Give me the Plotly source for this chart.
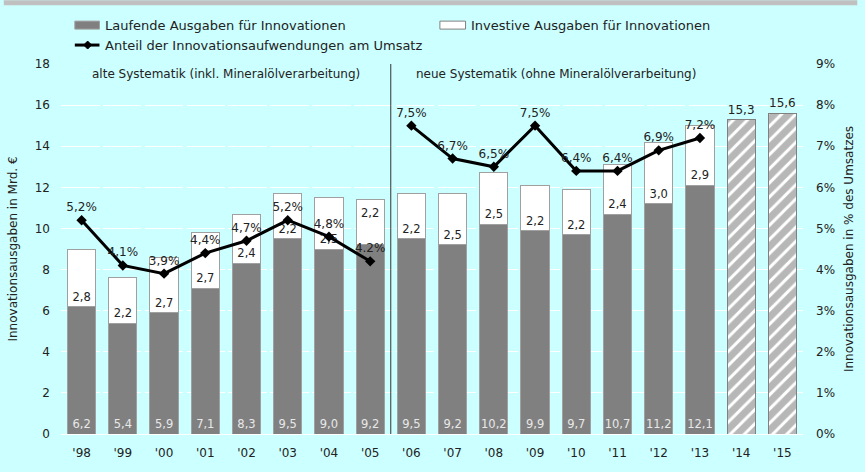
import plotly.graph_objects as go

# ---------------- data ----------------
years = ["'98", "'99", "'00", "'01", "'02", "'03", "'04", "'05", "'06", "'07",
         "'08", "'09", "'10", "'11", "'12", "'13", "'14", "'15"]
laufend = [6.2, 5.4, 5.9, 7.1, 8.3, 9.5, 9.0, 9.2, 9.5, 9.2, 10.2, 9.9, 9.7, 10.7, 11.2, 12.1, None, None]
investiv = [2.8, 2.2, 2.7, 2.7, 2.4, 2.2, 2.5, 2.2, 2.2, 2.5, 2.5, 2.2, 2.2, 2.4, 3.0, 2.9, None, None]
plan_total = [None] * 16 + [15.3, 15.6]
anteil = [5.2, 4.1, 3.9, 4.4, 4.7, 5.2, 4.8, 4.2, 7.5, 6.7, 6.5, 7.5, 6.4, 6.4, 6.9, 7.2]
anteil_labels = ["5,2%", "4,1%", "3,9%", "4,4%", "4,7%", "5,2%", "4,8%", "4.2%",
                 "7,5%", "6,7%", "6,5%", "7,5%", "6,4%", "6,4%", "6,9%", "7,2%"]
y_left_ticks = [0, 2, 4, 6, 8, 10, 12, 14, 16, 18]
y_right_ticks = [0, 1, 2, 3, 4, 5, 6, 7, 8, 9]
y_right_ticktext = ["0%", "1%", "2%", "3%", "4%", "5%", "6%", "7%", "8%", "9%"]
legend_names = ["Laufende Ausgaben für Innovationen",
                "Investive Ausgaben für Innovationen",
                "Anteil der Innovationsaufwendungen am Umsatz"]
era_labels = ["alte Systematik (inkl. Mineralölverarbeitung)",
              "neue Systematik (ohne Mineralölverarbeitung)"]
n_old = 8  # years with old methodology ('98-'05)

def de(v):
    return "" if v is None else f"{v:.1f}".replace(".", ",")

FONT = "DejaVu Sans"
BG = "#ccffff"
GRAY = "#808080"
EDGE = "#a0a0a0"
TXT = "#222222"

W, H = 865, 472
L, R, T, B = 58, 55, 64, 37
PW, PH = W - L - R, H - T - B

def px(x):
    return (x - L) / PW

def py(y):
    return (H - B - y) / PH

fig = go.Figure()

fig.add_trace(go.Bar(
    x=years, y=laufend, name=legend_names[0],
    marker=dict(color=GRAY, line=dict(color=EDGE, width=1)),
    text=[de(v) for v in laufend], textposition="inside", insidetextanchor="start",
    textangle=0, textfont=dict(family=FONT, size=11.5, color="#e8e8e8"),
    constraintext="none", showlegend=False, hoverinfo="skip"))

inv_text = [de(v) for v in investiv]
inv_text[7] = ""
fig.add_trace(go.Bar(
    x=years, y=investiv, name=legend_names[1],
    marker=dict(color="white", line=dict(color=EDGE, width=1)),
    text=inv_text, textposition="inside", insidetextanchor="start",
    textangle=0, textfont=dict(family=FONT, size=11.5, color=TXT),
    constraintext="none", showlegend=False, hoverinfo="skip"))

fig.add_trace(go.Bar(
    x=years, y=plan_total, name="Plan",
    marker=dict(color="white", line=dict(color=GRAY, width=1),
                pattern=dict(shape="/", fgcolor="#707070", bgcolor="white", size=10, solidity=0.7)),
    text=[de(v) for v in plan_total], textposition="outside",
    textangle=0, textfont=dict(family=FONT, size=12, color=TXT),
    cliponaxis=False, showlegend=False, hoverinfo="skip"))

for sl in (slice(0, n_old), slice(n_old, len(anteil))):
    fig.add_trace(go.Scatter(
        x=years[sl], y=anteil[sl], yaxis="y2", mode="lines+markers+text",
        name=legend_names[2],
        line=dict(color="black", width=3),
        marker=dict(symbol="diamond", size=8, color="black"),
        text=anteil_labels[sl], textposition="top center",
        textfont=dict(family=FONT, size=12, color=TXT),
        cliponaxis=False, showlegend=False, hoverinfo="skip"))

shapes = []
# top grey band
shapes.append(dict(type="rect", xref="paper", yref="paper",
                   x0=px(0), x1=px(W), y0=py(5), y1=py(0),
                   fillcolor="#c0c0c0", line=dict(width=0), layer="below"))
# separator old/new methodology
shapes.append(dict(type="line", xref="x", yref="y", x0=n_old - 0.5, x1=n_old - 0.5, y0=0, y1=18,
                   line=dict(color="#333333", width=1)))
# legend swatches
shapes.append(dict(type="rect", xref="paper", yref="paper",
                   x0=px(72), x1=px(97), y0=py(29), y1=py(21),
                   fillcolor=GRAY, line=dict(color=EDGE, width=1)))
shapes.append(dict(type="rect", xref="paper", yref="paper",
                   x0=px(442), x1=px(468), y0=py(29), y1=py(21),
                   fillcolor="white", line=dict(color=GRAY, width=1)))
shapes.append(dict(type="line", xref="paper", yref="paper",
                   x0=px(72), x1=px(97), y0=py(45), y1=py(45),
                   line=dict(color="black", width=3)))
cx, cy, d = 85, 45, 4
shapes.append(dict(type="path", xref="paper", yref="paper",
                   path=f"M {px(cx-d)},{py(cy)} L {px(cx)},{py(cy-d)} L {px(cx+d)},{py(cy)} L {px(cx)},{py(cy+d)} Z",
                   fillcolor="black", line=dict(color="black", width=1)))

annotations = []
for xx, yy, t in [(101, 25, legend_names[0]), (471, 25, legend_names[1]), (101, 45, legend_names[2])]:
    annotations.append(dict(xref="paper", yref="paper", x=px(xx), y=py(yy), text=t,
                            showarrow=False, xanchor="left", yanchor="middle",
                            font=dict(family=FONT, size=13, color=TXT)))
annotations.append(dict(xref="x", yref="paper", x=3.5, y=py(74), text=era_labels[0],
                        showarrow=False, xanchor="center", yanchor="middle",
                        font=dict(family=FONT, size=12, color=TXT)))
annotations.append(dict(xref="x", yref="paper", x=11.5, y=py(74), text=era_labels[1],
                        showarrow=False, xanchor="center", yanchor="middle",
                        font=dict(family=FONT, size=12, color=TXT)))
# moved label of '05 investive part (top of segment)
annotations.append(dict(xref="x", yref="y", x=years[7], y=laufend[7] + investiv[7],
                        text=de(investiv[7]), showarrow=False, yanchor="top", yshift=-4,
                        font=dict(family=FONT, size=11.5, color=TXT)))

fig.update_layout(
    width=W, height=H,
    margin=dict(l=L, r=R, t=T, b=B, pad=0),
    paper_bgcolor=BG, plot_bgcolor=BG,
    barmode="stack", bargap=0.316,
    showlegend=False,
    font=dict(family=FONT, size=12, color=TXT),
    shapes=shapes, annotations=annotations,
    xaxis=dict(type="category", range=[-0.5, 17.5], showgrid=False, showline=False,
               ticks="", ticklabelstandoff=10,
               tickfont=dict(family=FONT, size=12, color=TXT)),
    yaxis=dict(range=[0, 18], tickvals=y_left_ticks, showgrid=True, gridcolor="white",
               gridwidth=1, griddash="38.5px,3.35px", zeroline=True, zerolinecolor="white",
               zerolinewidth=1, showline=False, ticks="", ticklabelstandoff=10,
               tickfont=dict(family=FONT, size=12, color=TXT),
               title=dict(text="Innovationsausgaben in Mrd. €", standoff=14,
                          font=dict(family=FONT, size=12, color=TXT))),
    yaxis2=dict(range=[0, 9], tickvals=y_right_ticks, ticktext=y_right_ticktext,
                overlaying="y", side="right", showgrid=False, zeroline=False,
                showline=False, ticks="", ticklabelstandoff=12,
                tickfont=dict(family=FONT, size=12, color=TXT),
                title=dict(text="Innovationsausgaben in % des Umsatzes", standoff=10,
                           font=dict(family=FONT, size=12, color=TXT))),
)

fig.write_html("out.html", config={"displayModeBar": False},
               post_script="document.body.style.margin='0';document.body.style.padding='0';")
